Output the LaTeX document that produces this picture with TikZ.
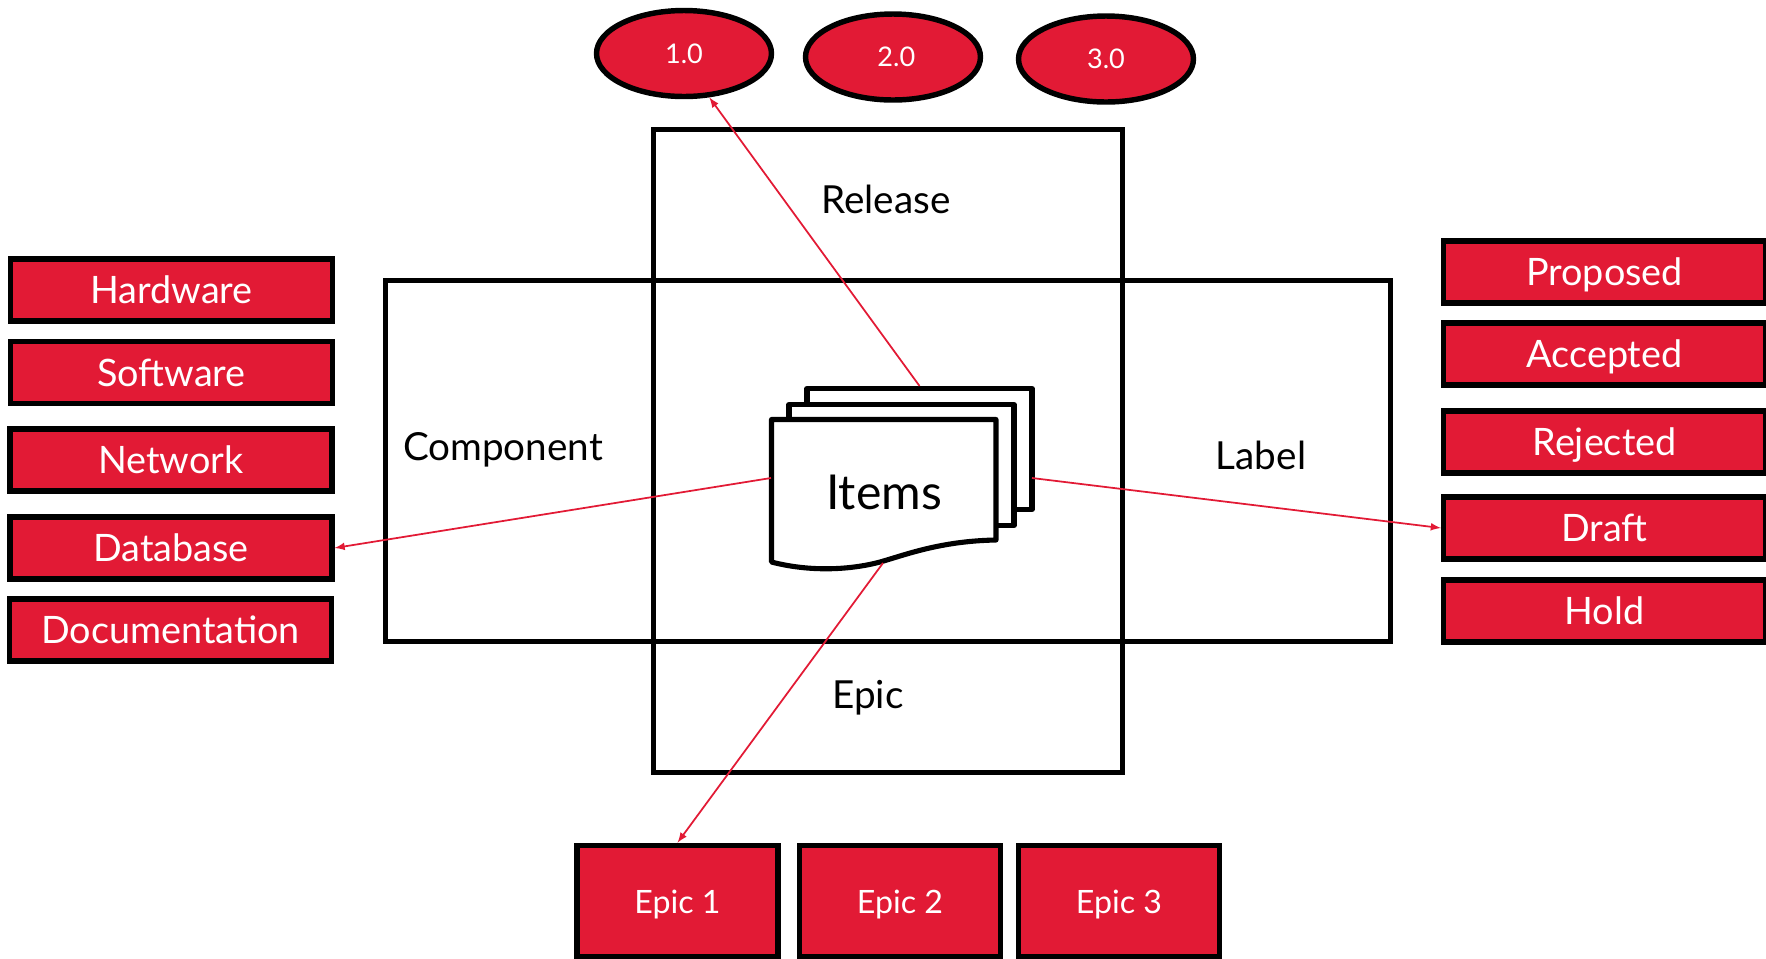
\documentclass[tikz,border=0pt]{standalone}
\usepackage{xcolor}
\usepackage{tikz}
\usepackage{fontspec}
\setmainfont{Lato}
\usetikzlibrary{shapes.geometric}
\definecolor{itemred}{HTML}{E21A35}
\tikzset{
  bigbox/.style={draw, rectangle, line width=2.9pt},
  sidebox/.style={draw, rectangle, fill=itemred, text=white, line width=2.9pt, minimum width=6.44cm, minimum height=1.24cm, text height=18pt, text depth=2.6pt, font=\fontsize{21.5}{24}\selectfont},
  epicbox/.style={draw, rectangle, fill=itemred, text=white, line width=2.9pt, minimum width=4.02cm, minimum height=2.23cm, text height=16pt, text depth=2.3pt, font=\fontsize{18.3}{22}\selectfont},
  relnode/.style={draw, ellipse, fill=itemred, text=white, line width=3.1pt, minimum width=3.5cm, minimum height=1.72cm, text height=13pt, text depth=1.8pt, font=\fontsize{15.4}{18}\selectfont},
  sheet/.style={draw, rectangle, fill=white, line width=2.9pt, line join=round, minimum width=4.5cm, minimum height=2.42cm},
  areatext/.style={font=\fontsize{22}{24}\selectfont},
  link/.style={-latex, itemred, line width=1pt}
}
\begin{document}
\begin{tikzpicture}[x=0.02cm, y=-0.02cm]
                \useasboundingbox (0,0) rectangle (1766,958);
                % the two crossing areas
                \node[bigbox, minimum width=20.12cm, minimum height=7.22cm] (comparea) at (888,461) {};
                \node[bigbox, minimum width=9.38cm, minimum height=12.88cm] (relarea) at (888,451) {};
                \node[areatext] (reltext) at (886,199) {Release};
                \node[areatext] (comptext) at (503,450) {Component};
                \node[areatext] (labeltext) at (1261,455) {Label};
                \node[areatext] (epictext) at (868,698) {Epic};
                % releases
                \node[relnode] (rela) at (684,53.5) {1.0};
                \node[relnode] (relb) at (893,57) {\hspace*{3.8pt}2.0};
                \node[relnode] (relc) at (1106,59) {3.0};
                % components
                \node[sidebox] (hw) at (171.5,290) {Hardware};
                \node[sidebox] (sw) at (171.5,372.5) {Software};
                \node[sidebox] (net) at (171,460) {Network};
                \node[sidebox] (db) at (171,548) {Database};
                \node[sidebox] (doc) at (170.5,630) {Documentation};
                % labels
                \node[sidebox] (prop) at (1604.5,272) {Proposed};
                \node[sidebox] (acc) at (1604.5,354) {Accepted};
                \node[sidebox] (rej) at (1604.5,442) {Rejected};
                \node[sidebox] (draft) at (1604.5,528) {Draft};
                \node[sidebox] (hold) at (1604.5,611) {Hold};
                % epics
                \node[epicbox] (epica) at (677.5,901) {Epic 1};
                \node[epicbox] (epicb) at (900,901) {Epic 2};
                \node[epicbox] (epicc) at (1119,901) {Epic 3};
                % the stack of items
                \node[sheet] (sheetc) at (919.5,449) {};
                \node[sheet] (sheetb) at (901.5,465) {};
                \draw[line width=2.9pt, line join=round, fill=white] (771.5,419.5) -- (996,419.5) -- (996,540)
                    .. controls (940,541) and (905,555) .. (880,562)
                    .. controls (850,570) and (810,572) .. (771.5,562) -- cycle;
                \node[font=\fontsize{27.4}{30}\selectfont] (items) at (884,492) {Items};
                \coordinate (itemsl) at (771,478);
                \coordinate (itemsr) at (1032,478);
                \coordinate (itemsb) at (883,563);
                \draw[link] (sheetc.north) -- (rela.-60);
                \draw[link] (itemsl) -- (db.east);
                \draw[link] (itemsr) -- (draft.west);
                \draw[link] (itemsb) -- (epica.north);
            \end{tikzpicture}
\end{document}
